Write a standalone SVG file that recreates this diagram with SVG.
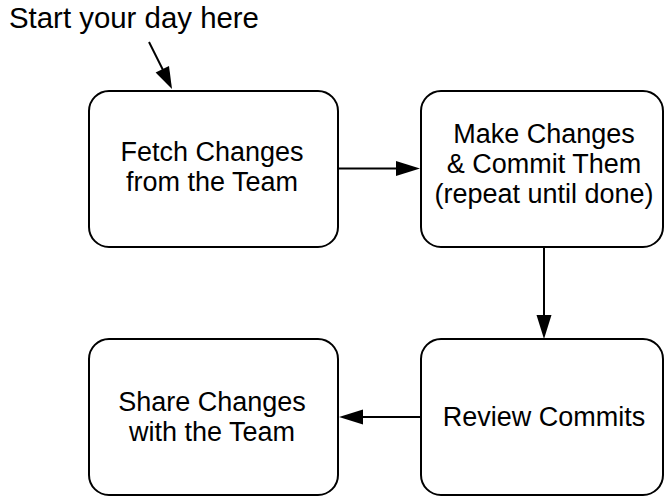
<svg xmlns="http://www.w3.org/2000/svg" width="664" height="497" viewBox="0 0 664 497">
<style>
.box{fill:#fff;stroke:#000;stroke-width:2}
.t{font-family:"Liberation Sans",Arial,Helvetica,sans-serif;font-size:27px;fill:#000;text-anchor:middle}
.c{stroke:#000;stroke-width:2;fill:none}
.ah{fill:#000;stroke:none}
</style>
<rect width="664" height="497" fill="#fff"/>
<g id="start-label">
<text class="t" x="9" y="28" style="text-anchor:start;font-size:29.4px">Start your day here</text>
</g>
<g id="fetch">
<rect class="box" x="89" y="91" width="249" height="156" rx="20"/>
<text class="t" x="212" y="161">Fetch Changes</text>
<text class="t" x="212" y="191">from the Team</text>
</g>
<g id="make">
<rect class="box" x="421" y="91" width="242" height="156" rx="20"/>
<text class="t" x="544" y="143">Make Changes</text>
<text class="t" x="544" y="173">&amp; Commit Them</text>
<text class="t" x="544" y="203">(repeat until done)</text>
</g>
<g id="review">
<rect class="box" x="421" y="339" width="242" height="156" rx="20"/>
<text class="t" x="544" y="426">Review Commits</text>
</g>
<g id="share">
<rect class="box" x="89" y="339" width="249" height="156" rx="20"/>
<text class="t" x="212" y="411">Share Changes</text>
<text class="t" x="212" y="441">with the Team</text>
</g>
<g id="connectors">
<line class="c" x1="149" y1="42" x2="163" y2="70"/>
<polygon class="ah" points="172,89 169,65.9 155.6,72.5"/>
<line class="c" x1="338" y1="168.5" x2="398" y2="168.5"/>
<polygon class="ah" points="420,168.5 396,161 396,176"/>
<line class="c" x1="544" y1="247" x2="544" y2="318"/>
<polygon class="ah" points="544,339 536.5,315 551.5,315"/>
<line class="c" x1="421" y1="417" x2="360" y2="417"/>
<polygon class="ah" points="339,417 363,409.5 363,424.5"/>
</g>
</svg>
